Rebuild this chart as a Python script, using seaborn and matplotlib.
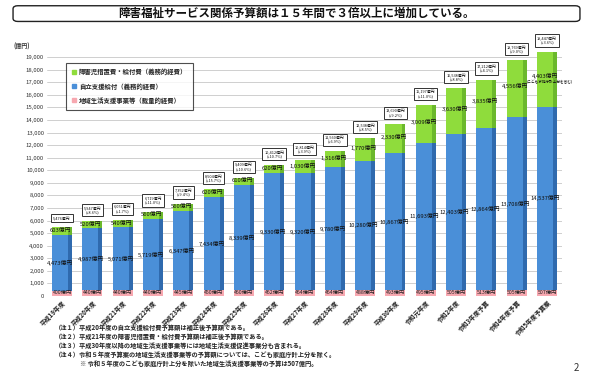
import matplotlib
matplotlib.use("Agg")
import matplotlib.pyplot as plt
import matplotlib.patches as mpatches
from matplotlib.patches import FancyBboxPatch
import seaborn as sns
import pandas as pd

# ---------------- data (億円) ----------------
categories = ["平成19年度", "平成20年度", "平成21年度", "平成22年度", "平成23年度",
              "平成24年度", "平成25年度", "平成26年度", "平成27年度", "平成28年度",
              "平成29年度", "平成30年度", "令和元年度", "令和2年度", "令和3年度予算",
              "令和4年度予算", "令和5年度予算案"]
chiiki = [400, 440, 440, 440, 445, 450, 460, 462, 464, 464, 488, 493, 495, 505, 513, 505, 507]
jiritsu = [4473, 4987, 5071, 5719, 6347, 7434, 8339, 9330, 9320, 9780, 10280, 10867,
           11693, 12403, 12864, 13708, 14537]
shogaiji = [603, 520, 540, 560, 560, 620, 610, 620, 1030, 1316, 1770, 2330, 3009, 3630,
            3835, 4556, 4403]
yticks = list(range(0, 20000, 1000))

title = "障害福祉サービス関係予算額は１５年間で３倍以上に増加している。"
legend_labels = ["障害児措置費・給付費（義務的経費）", "自立支援給付（義務的経費）",
                 "地域生活支援事業等（裁量的経費）"]
notes = ["（注１）平成20年度の自立支援給付費予算額は補正後予算額である。",
         "（注２）平成21年度の障害児措置費・給付費予算額は補正後予算額である。",
         "（注３）平成30年度以降の地域生活支援事業等には地域生活支援促進事業分も含まれる。",
         "（注４）令和５年度予算案の地域生活支援事業等の予算額については、こども家庭庁計上分を除く。",
         "※ 令和５年度のこども家庭庁計上分を除いた地域生活支援事業等の予算は507億円。"]

# ---------------- style ----------------
sns.set_theme(style="white")
plt.rcParams["font.family"] = ["Noto Sans CJK JP", "DejaVu Sans"]

GREEN = "#8fdc3c"
GREEN_D = "#6bb82c"
BLUE = "#4a8fd8"
BLUE_D = "#2f6aae"
PINK = "#f7a8b0"

df = pd.DataFrame({"cat": categories, "chiiki": chiiki, "jiritsu": jiritsu,
                   "shogaiji": shogaiji})
df["lower"] = df["chiiki"]
df["mid"] = df["chiiki"] + df["jiritsu"]
df["total"] = df["mid"] + df["shogaiji"]

fig = plt.figure(figsize=(5.93, 3.83), dpi=100)
ax = fig.add_axes([0.079, 0.2272, 0.869, 0.6564])

W = 0.66
sns.barplot(data=df, x="cat", y="total", color=GREEN, width=W, saturation=1, ax=ax,
            edgecolor="none", zorder=3)
sns.barplot(data=df, x="cat", y="mid", color=BLUE, width=W, saturation=1, ax=ax,
            edgecolor="none", zorder=3)
sns.barplot(data=df, x="cat", y="lower", color=PINK, width=W, saturation=1, ax=ax,
            edgecolor="none", zorder=3)

# darker right side strip (3D look)
SIDE = 0.13
xs = [i + W / 2 - SIDE for i in range(len(categories))]
ax.bar(xs, df["shogaiji"], bottom=df["mid"], width=SIDE, align="edge", color=GREEN_D,
       zorder=4, linewidth=0)
ax.bar(xs, df["jiritsu"], bottom=df["chiiki"], width=SIDE, align="edge", color=BLUE_D,
       zorder=4, linewidth=0)

ax.set_ylim(0, 20000)
ax.set_xlim(-0.5, len(categories) - 0.5)
ax.set_yticks(yticks)
ax.set_yticklabels([f"{v:,}" for v in yticks], fontsize=4.3, color="#333333")
ax.yaxis.grid(True, color="#c8c8c8", linewidth=0.6, zorder=0)
ax.set_axisbelow(True)
for s in ax.spines.values():
    s.set_visible(False)
ax.tick_params(axis="both", length=0, pad=2)
ax.set_xlabel("")
ax.set_ylabel("")
ax.set_xticks(range(len(categories)))
ax.set_xticklabels(categories, rotation=45, ha="right", rotation_mode="anchor",
                   fontsize=4.5, fontweight="bold", color="#222222")

# value labels
for i, row in df.iterrows():
    ax.text(i, 110, f"{row['chiiki']:,}億円", ha="center", va="bottom", fontsize=3.8,
            color="#222222", zorder=5)
    ax.text(i - 0.05, row["chiiki"] + row["jiritsu"] * 0.5, f"{row['jiritsu']:,}億円",
            ha="center", va="center", fontsize=4.2, color="#111111", zorder=5)
    if row["shogaiji"] < 900:
        gy = row["total"] - 250
    else:
        gy = row["mid"] + row["shogaiji"] * 0.55
    ax.text(i - 0.05, gy, f"{row['shogaiji']:,}億円", ha="center", va="center",
            fontsize=4.2, color="#111111", zorder=5)
    if i == 0:
        box = f"{row['total']:,}億円"
    else:
        prev = df.loc[i - 1, "total"]
        box = f"{row['total']:,}億円\n(+{(row['total'] / prev - 1) * 100:.1f}%)"
    ax.text(i, row["total"] + 550, box, ha="center", va="bottom", fontsize=2.8,
            color="#111111", linespacing=1.1, zorder=6, clip_on=False,
            bbox=dict(boxstyle="square,pad=0.5", facecolor="white",
                      edgecolor="#333333", linewidth=0.7))

last = len(categories) - 1
ax.text(last + 0.1, df.loc[last, "mid"] + df.loc[last, "shogaiji"] * 0.55 - 420,
        "(こども家庭庁計上分を含む)", ha="center", va="center", fontsize=2.6,
        color="#111111", zorder=6)

# legend
handles = [mpatches.Patch(color=GREEN), mpatches.Patch(color=BLUE),
           mpatches.Patch(color=PINK)]
leg = ax.legend(handles, legend_labels, loc="upper left", bbox_to_anchor=(0.106, 0.845),
                bbox_transform=fig.transFigure, fontsize=4.6, frameon=True,
                fancybox=False, edgecolor="#222222", handlelength=0.6,
                handleheight=0.6, handletextpad=0.5, borderpad=0.9, labelspacing=1.1)
leg.get_frame().set_linewidth(0.8)
leg.set_zorder(10)
for t in leg.get_texts():
    t.set_fontweight("bold")

# axis unit
fig.text(0.022, 0.872, "(億円)", fontsize=4.3, color="#333333", fontweight="bold")

# title box
fig.patches.append(FancyBboxPatch((0.022, 0.944), 0.956, 0.041,
                                  boxstyle="round,pad=0,rounding_size=0.008",
                                  transform=fig.transFigure, facecolor="white",
                                  edgecolor="#222222", linewidth=1.0))
fig.text(0.5, 0.9645, title, ha="center", va="center", fontsize=8.3, fontweight="bold",
         color="#111111")

# notes
for k, n in enumerate(notes):
    fig.text(0.092 if k < 4 else 0.135, 0.146 - k * 0.0235, n, fontsize=4.5,
             color="#222222", fontweight="bold", ha="left", va="center")

fig.text(0.972, 0.04, "2", fontsize=7, color="#333333", ha="center", va="center")

fig.savefig("out.png", dpi=100, facecolor="white")
